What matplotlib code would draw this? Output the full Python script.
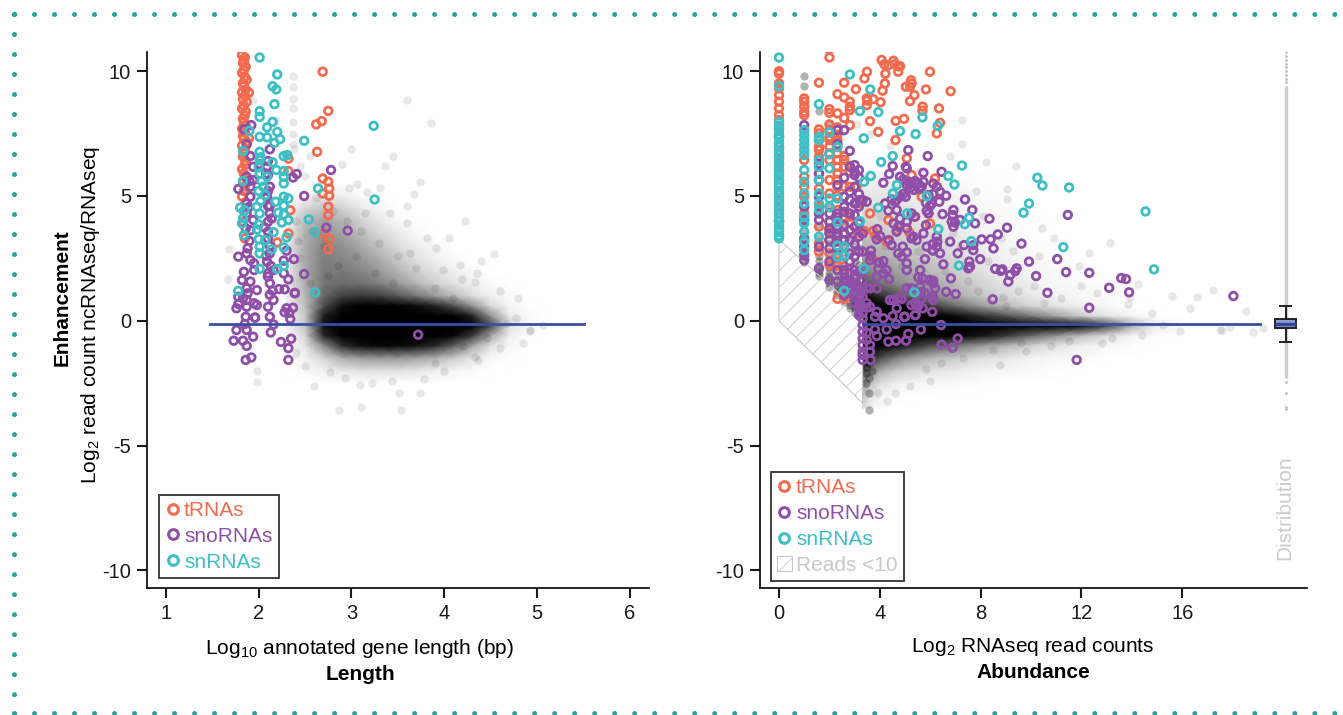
import numpy as np
import matplotlib
matplotlib.use("Agg")
import matplotlib.pyplot as plt
from matplotlib.colors import LinearSegmentedColormap
from matplotlib.patches import Polygon, Patch
from matplotlib.lines import Line2D

plt.rcParams['font.family'] = ['Liberation Sans', 'DejaVu Sans']
plt.rcParams['mathtext.default'] = 'regular'
plt.rcParams['hatch.linewidth'] = 0.6
plt.rcParams['hatch.color'] = '#c8c8c8'

C_T = '#f26b4f'
C_SNO = '#8f4fa8'
C_SN = '#3dbfc6'
C_LINE = '#3a4fa2'
C_BORDER = '#2aa19d'

# ---------------- LEFT PANEL DATA (x = log10 length, y = log2 enhancement) -------------
trna_left = [(1.82,10.65),(1.85,10.55),(1.84,10.42),(1.83,10.33),(1.86,10.18),(1.84,10.05),(1.82,9.93),
             (1.85,9.78),(1.87,9.66),(1.83,9.52),(1.84,9.41),(1.86,9.27),(1.82,9.15),(1.85,9.02),(1.83,8.88),
             (1.87,8.77),(1.84,8.62),(1.82,8.5),(1.86,8.38),(1.85,8.22),(1.83,8.1),(1.84,7.97),(1.86,7.82),
             (1.82,7.7),(1.85,7.55),(1.83,7.41),(1.84,7.3),(1.87,7.16),(1.82,7.02),(1.85,6.85),(1.84,6.71),
             (1.83,6.58),(1.86,6.4),(1.85,6.25),(1.82,6.07),(1.84,5.9),(1.86,5.74),(1.83,5.55),(1.85,5.38),
             (1.84,5.2),(1.82,4.98),(1.86,4.75),(1.84,4.4),(1.83,3.95),(1.85,3.3),(1.895,9.14),(1.895,7.31),
             (2.32,6.5),(2.32,6.0),(2.34,4.43),(2.32,3.5),(2.20,3.14),(2.69,9.98),(2.75,8.41),(2.68,8.0),
             (2.62,7.87),(2.63,6.77),(2.69,5.7),(2.75,5.57),(2.76,5.3),(2.69,5.1),(2.76,5.01),(2.75,4.57),
             (2.75,4.23),(2.70,3.5),(2.76,3.27),(2.75,2.86)]
snrna_left = [(2.01,10.55),(2.2,9.87),(2.15,9.40),(2.19,9.27),(2.17,8.68),(2.01,8.40),(2.01,8.17),(2.15,7.97),
              (2.09,7.75),(1.9,7.61),(2.2,7.57),(2.01,7.37),(2.09,7.35),(2.23,7.28),(2.17,7.13),(2.49,7.21),
              (3.24,7.81),(1.83,6.80),(2.01,6.77),(2.27,6.60),(2.31,6.64),(2.15,6.35),(2.01,6.44),(2.19,6.04),
              (2.27,6.0),(2.01,5.9),(2.09,5.77),(2.27,5.77),(1.83,5.6),(2.27,5.5),(2.05,5.37),(2.64,5.30),
              (2.07,5.04),(2.27,4.97),(2.32,4.9),(2.18,4.77),(2.27,4.61),(1.8,4.53),(1.85,4.43),(1.98,4.57),
              (2.01,4.3),(2.21,4.33),(2.27,4.26),(1.83,4.1),(1.82,3.9),(2.32,4.04),(2.25,3.94),(2.54,4.06),
              (2.0,3.86),(1.98,3.66),(2.16,3.55),(2.61,3.54),(2.3,3.34),(2.0,3.27),(2.07,3.23),(1.84,3.43),
              (2.01,2.97),(2.27,2.94),(2.14,2.86),(2.01,2.70),(2.2,2.07),(2.01,2.08),(2.27,2.2),(3.25,4.86),
              (1.78,1.2),(2.61,1.14),(2.02,6.55),(2.0,6.15),(2.03,5.6),(2.0,5.2),(2.02,4.8)]
snorna_left = [(1.92,7.84),(1.84,7.67),(2.12,6.87),(1.87,7.07),(1.91,6.6),(2.01,6.28),(1.94,6.17),(2.09,6.17),
               (2.78,6.04),(2.41,5.88),(2.37,5.74),(1.87,5.77),(1.94,5.64),(2.1,5.84),(1.78,5.28),(1.91,5.37),
               (2.12,5.37),(1.91,4.97),(2.09,4.97),(2.49,5.0),(1.87,4.7),(2.1,4.6),(1.87,4.3),(2.12,4.3),
               (1.94,4.04),(2.1,3.97),(2.73,3.73),(2.96,3.61),(1.91,3.63),(2.1,3.57),(2.3,2.81),(2.38,2.47),
               (1.87,2.7),(2.12,2.7),(1.78,2.57),(1.91,2.43),(2.09,2.37),(2.27,2.41),(2.16,2.03),(1.84,1.96),
               (1.95,2.03),(2.27,1.9),(2.49,1.87),(2.1,1.77),(1.82,1.63),(1.91,1.57),(2.12,1.5),(2.32,1.66),
               (1.87,1.3),(1.98,1.23),(2.22,1.27),(2.39,1.1),(1.78,0.96),(1.87,0.83),(2.16,0.83),(1.95,0.7),
               (1.76,0.5),(2.3,0.5),(2.1,0.56),(2.37,0.52),(2.33,0.32),(1.86,0.16),(1.96,0.12),(2.12,0.16),
               (3.72,-0.56),(1.76,-0.37),(1.87,-0.37),(1.85,-0.13),(2.16,-0.15),(1.73,-0.8),(1.83,-0.8),
               (2.13,-0.47),(1.94,-0.64),(1.87,-1.01),(2.24,-0.85),(2.35,-0.72),(2.32,-1.1),(1.86,-1.57),
               (1.92,-1.47),(2.32,-1.57),(2.34,0.07),(2.28,0.34),(1.96,0.13),(1.98,0.63),(1.87,0.56),
               (2.39,1.12),(2.28,1.26),(2.12,1.04),(1.83,0.90),(1.78,0.67),(1.9,3.2),(1.88,2.9),(2.1,3.3),
               (2.12,3.0),(1.86,3.7),(2.08,2.6),(1.95,2.3),(2.1,1.9),(1.88,1.1),(2.15,1.2),(2.12,4.6),
               (2.1,5.2),(1.9,5.6),(2.08,5.9),(2.1,6.4),(2.14,4.1),(1.89,4.55),(2.06,3.75),(2.13,2.2)]
gray_left = [(2.37,9.8),(2.37,9.38),(2.37,8.9),(2.37,8.51),(2.37,7.97),(2.37,7.47),(2.37,7.08),(2.38,6.87),
             (3.6,8.84),(3.86,7.93),(1.94,8.84),(2.19,8.04),(3.36,6.21),(3.67,5.06),(3.74,5.57),(3.42,4.3),
             (4.23,4.01),(4.54,2.66),(4.35,1.9),(4.19,1.66),(1.68,2.86),(1.67,1.67),(3.91,2.9),(3.99,2.03),
             (3.81,3.3),(3.31,5.3),(3.17,5.17),(2.97,5.3),(3.06,5.5),(3.6,3.9),(3.63,2.7),(4.93,-0.37),
             (5.07,-0.17),(4.78,0.1),(4.68,-0.1),(1.98,-2.0),(1.98,-2.47),(2.87,-3.58),(3.1,-3.44),
             (3.54,-3.58),(3.51,-2.91),(3.74,-2.91),(3.09,-2.59),(3.22,-2.51),(3.44,-2.4),(3.78,-2.32),
             (2.93,-2.31),(2.77,-2.07),(4.33,-1.44),(4.37,-1.57),(4.46,-0.71),(4.93,-0.4),(4.17,2.23),
             (4.33,1.56),(2.45,6.2),(2.5,5.8),(2.55,6.6),(2.9,6.3),(3.0,6.9),(3.45,6.6),(4.05,3.3),
             (4.4,2.4),(4.6,1.2),(4.8,0.9),(4.85,-0.9),(4.6,-1.1),(2.4,-1.3),(2.5,-1.8),(2.6,-2.6),
             (4.0,-2.0),(3.9,-1.7),(4.2,-1.0),(2.45,2.5),(2.4,4.0),(2.42,3.2),(2.55,1.5),(3.6,4.6),
             (2.62,4.9),(2.8,4.4),(2.95,4.0),(3.1,3.6),(3.3,3.1),(3.5,2.6),(3.7,2.1),(2.7,3.0),(2.85,2.2),
             (3.05,2.6),(3.25,1.9),(3.45,1.5),(3.9,1.3),(4.1,0.9),(2.58,3.6),(2.75,1.8),(3.15,4.3)]
trend_left_x = [1.47, 5.51]
trend_y = -0.15

# density of the grey background cloud (darkness 0..1)
dens_left_x = [2.3, 2.5, 2.7, 2.9, 3.1, 3.3, 3.5, 3.7, 3.9, 4.1, 4.3, 4.5, 4.7, 4.9, 5.1]
dens_left_y = [-2.5, -2.0, -1.5, -1.0, -0.6, -0.2, 0.2, 0.6, 1.0, 1.5, 2.0, 2.5, 3.0, 3.5, 4.0, 4.5, 5.0, 5.5]
dens_left = [
    [0, 0, 0, 0, 0, 0, 0, 0, 0, 0, 0, 0, 0, 0, 0],
    [0, .02, .06, .10, .12, .12, .12, .10, .07, .04, .02, 0, 0, 0, 0],
    [.01, .05, .16, .32, .38, .40, .40, .36, .30, .20, .10, .03, .01, 0, 0],
    [.02, .10, .45, .82, .94, .97, .97, .93, .84, .64, .36, .12, .03, 0, 0],
    [.03, .16, .85, 1, 1, 1, 1, 1, 1, .97, .78, .35, .07, .01, 0],
    [.04, .22, .93, 1, 1, 1, 1, 1, 1, 1, 1, .72, .14, .03, 0],
    [.04, .22, .88, 1, 1, 1, 1, 1, 1, 1, .87, .44, .09, .02, 0],
    [.05, .25, .70, .94, 1, 1, 1, .96, .87, .70, .44, .16, .04, .01, 0],
    [.06, .28, .60, .74, .78, .76, .66, .54, .40, .27, .14, .06, .02, 0, 0],
    [.07, .32, .54, .58, .56, .50, .40, .29, .19, .11, .06, .02, 0, 0, 0],
    [.07, .33, .52, .52, .48, .40, .29, .19, .11, .06, .02, 0, 0, 0, 0],
    [.07, .33, .50, .48, .41, .32, .21, .12, .06, .02, 0, 0, 0, 0, 0],
    [.07, .33, .48, .43, .34, .24, .14, .07, .03, 0, 0, 0, 0, 0, 0],
    [.06, .31, .42, .36, .26, .16, .08, .03, 0, 0, 0, 0, 0, 0, 0],
    [.05, .26, .36, .29, .18, .09, .03, 0, 0, 0, 0, 0, 0, 0, 0],
    [.03, .16, .24, .18, .09, .04, 0, 0, 0, 0, 0, 0, 0, 0, 0],
    [0, .05, .10, .07, .02, 0, 0, 0, 0, 0, 0, 0, 0, 0, 0],
    [0, 0, 0, 0, 0, 0, 0, 0, 0, 0, 0, 0, 0, 0, 0],
]

# ---------------- RIGHT PANEL DATA (x = log2 RNAseq read counts) -------------
trna_right = [(0,10.0),(0,9.9),(0,9.51),(0,9.31),(0,9.04),(0,8.78),(0,8.51),(0,8.24),(0,8.04),(0,7.71),
              (0,7.37),(0,6.97),(0,6.71),(0,6.3),(0,5.9),(0,5.5),(0,5.1),(0,4.84),(0,4.57),(0,4.3),(0,3.97),
              (0,3.63),(0,3.37),
              (2.0,10.89),(2.0,10.55),(4.07,10.45),(4.18,10.28),(4.35,10.24),(4.54,10.42),(4.6,10.28),
              (4.73,10.2),(4.8,10.2),(4.22,9.9),(4.73,9.98),(5.99,9.98),(3.49,9.98),(3.39,9.71),(1.585,9.54),
              (2.585,9.54),(4.2,9.51),(5.24,9.64),(5.26,9.51),(5.2,9.38),(5.03,9.38),(3.05,9.28),(4.11,9.22),
              (5.83,9.27),(6.81,9.2),(5.37,9.04),(2.32,9.08),(2.585,8.95),(3.48,8.91),(3.5,8.82),(3.74,8.88),
              (5.2,8.8),(4.03,8.76),(2.81,8.78),(1,8.91),(1,8.78),(1,8.58),(1,8.37),(1,8.24),(2.0,8.48),
              (2.0,8.33),(2.81,8.58),(2.81,8.44),(3.48,8.64),(2.32,8.31),(2.585,8.13),(5.7,8.58),(5.69,8.42),
              (6.35,8.51),(3.61,8.0),(4.63,8.01),(4.96,8.09),(6.39,7.93),(2.0,7.87),(2.32,7.75),(2.81,7.84),
              (6.26,7.51),(3.94,7.57),(1.585,7.67),(1.585,7.51),(1.585,7.24),(1.585,6.97),(1.585,6.84),
              (2.0,7.64),(2.0,7.37),(2.0,7.24),(2.0,6.97),(2.0,6.71),(2.0,6.44),(2.32,7.44),(2.32,7.24),
              (4.62,7.24),(2.585,6.6),(2.585,6.44),(2.81,6.2),(2.32,6.71),(2.32,6.44),(2.32,6.17),(2.32,5.9),
              (5.07,6.51),(5.26,5.84),(6.19,5.7),(1,6.44),(1,5.77),(1,5.37),(1,4.97),(1,4.3),(1.585,6.57),
              (1.585,5.9),(1.585,5.3),(1.585,4.57),(1.585,3.77),(1.585,3.1),(1.585,2.77),(2.0,5.64),(2.0,5.1),
              (2.0,4.57),(2.0,3.97),(2.0,3.63),(2.0,3.23),(2.0,2.7),(2.0,2.23),(2.32,5.64),(2.32,5.37),
              (2.32,5.01),(2.32,4.44),(2.32,3.77),(2.32,3.46),(2.32,3.17),(2.32,2.66),(2.32,2.2),(2.32,0.88),
              (2.585,6.17),(2.585,5.37),(2.585,4.17),(2.585,3.5),(2.585,2.97),(2.81,5.97),(2.81,5.37),
              (3.08,5.37),(3.21,4.7),(2.81,4.17),(2.81,3.93),(3.61,4.3),(3.15,3.57),(3.21,3.5),(3.37,3.6),
              (3.74,3.6),(3.82,3.39),(4.27,3.17),(4.34,4.04),(4.67,3.63),(5.17,3.54),(5.66,4.97),(5.37,4.17),
              (5.99,3.9),(3.74,2.43),(2.585,3.77),(2.585,2.17),(2.585,0.88)]
snrna_right = [(0,10.55),(0,9.4),(0,7.97),(0,7.82),(0,7.63),(0,7.47),(0,7.31),(0,7.12),(0,6.98),(0,6.84),
               (0,6.68),(0,6.53),(0,6.41),(0,6.24),(0,6.09),(0,5.96),(0,5.8),(0,5.66),(0,5.49),(0,5.36),
               (0,5.2),(0,5.04),(0,4.91),(0,4.74),(0,4.61),(0,4.44),(0,4.3),(0,4.13),(0,3.99),(0,3.84),
               (0,3.7),(0,3.55),(0,3.41),(0,3.3),
               (2.81,9.87),(1.585,8.68),(3.62,9.27),(3.21,8.4),(3.94,8.36),(5.69,8.15),(6.3,7.81),(4.8,7.6),
               (5.42,7.48),(3.36,7.31),(1,7.64),(1,7.44),(1,7.24),(1,7.04),(1,6.84),(1,6.64),(1,6.04),(1,5.57),
               (1,5.1),(1,4.7),(1,4.17),(1,3.9),(1,3.57),(1,3.17),(1,2.83),(1.585,7.37),(1.585,7.24),
               (1.585,6.44),(1.585,6.17),(1.585,5.64),(1.585,5.1),(1.585,4.7),(1.585,4.44),(1.585,3.37),
               (2.0,7.55),(2.0,6.67),(2.0,6.11),(2.0,4.9),(2.0,4.57),(2.32,6.97),(2.32,4.9),(2.32,3.94),
               (2.32,3.01),(2.32,2.57),(2.585,2.97),(2.585,2.6),(2.585,1.2),(4.51,6.6),(4.05,6.36),(7.26,6.22),
               (6.72,5.8),(6.96,5.46),(4.68,5.44),(10.25,5.73),(10.45,5.42),(11.51,5.34),(4.52,5.1),(5.86,4.99),
               (3.94,4.53),(5.08,4.3),(9.92,4.7),(9.7,4.33),(14.54,4.38),(7.54,4.13),(7.37,3.87),(6.32,3.67),
               (7.63,3.19),(3.21,3.99),(11.28,2.95),(7.14,2.21),(14.88,2.06),(3.36,2.08),(5.37,1.14),
               (3.64,5.8),(3.37,5.57)]
snorna_right = [(0,6.5),(0,4.0),(1,7.84),(1,4.57),(1,4.04),(1,3.3),(1,2.97),(1,2.63),(1,2.43),
                (1.585,6.3),(1.585,5.9),(1.585,5.64),(1.585,4.97),(1.585,4.3),(1.585,4.04),(1.585,2.97),
                (1.585,2.1),(2.0,4.3),(2.0,3.97),(2.0,3.7),(2.0,3.5),(2.0,3.23),(2.0,2.9),(2.0,2.37),(2.0,1.63),
                (2.32,7.64),(2.32,7.08),(2.32,5.44),(2.32,4.3),(2.32,4.17),(2.32,3.77),(2.32,3.5),(2.32,3.37),
                (2.32,2.9),(2.32,2.57),(2.32,2.03),(2.32,1.57),(2.585,7.64),(2.585,5.73),(2.585,4.97),
                (2.585,4.57),(2.585,4.37),(2.585,3.83),(2.585,3.5),(2.585,3.23),(2.585,2.03),(2.585,1.9),
                (2.585,1.57),(2.585,1.3),(2.585,1.03),(2.81,6.81),(2.81,6.17),(2.81,5.17),(2.81,4.84),
                (2.81,4.3),(2.81,3.63),(2.81,3.23),(2.81,2.7),(2.81,2.37),(2.81,1.9),(2.81,1.5),(2.81,1.3),
                (3.0,6.24),(3.0,5.97),(3.0,5.84),(3.0,5.37),(3.0,4.7),(3.0,4.24),(3.0,3.77),(3.0,3.07),
                (3.0,2.57),(3.0,2.03),(3.0,1.77),(3.0,1.43),(3.0,1.1),(3.0,0.7),(3.17,6.04),(3.17,5.74),
                (3.17,5.08),(3.17,4.57),(3.17,3.9),(3.17,3.37),(3.17,2.77),(3.17,1.96),(3.17,1.37),(3.17,0.96),
                (3.17,0.63),(3.17,0.5),(3.17,0.23),(3.32,4.84),(3.32,3.5),(3.32,2.77),(3.32,1.63),(3.32,1.3),
                (3.32,0.96),(3.32,0.56),(3.32,0.3),(3.32,0.1),(3.32,-0.17),(3.32,-0.44),(3.32,-0.71),
                (3.32,-0.97),(3.32,-1.24),(3.32,-1.37),(3.32,-1.57),
                (5.13,6.84),(5.9,6.6),(5.03,6.17),(5.07,6.11),(4.51,6.2),(4.14,5.53),(4.37,5.88),(4.8,5.77),
                (4.93,5.66),(5.13,5.57),(5.26,5.53),(5.4,5.6),(5.53,5.5),(5.73,5.93),(5.73,5.57),(5.07,5.44),
                (5.2,5.3),(5.36,5.24),(5.56,5.3),(5.66,5.37),(6.12,5.5),(6.26,5.37),(6.45,5.97),(6.39,5.17),
                (6.63,5.01),(6.12,5.08),(5.93,5.04),(5.83,4.73),(5.99,4.6),(6.06,4.7),(6.36,4.77),(7.38,4.86),
                (4.93,5.08),(5.03,4.97),(4.66,4.84),(4.6,4.77),(4.8,4.97),(4.47,4.86),(4.21,4.7),(3.48,4.77),
                (3.21,4.84),(3.05,4.7),(4.34,4.41),(4.67,4.44),(4.8,4.1),(5.07,3.97),(5.26,4.3),(5.86,4.41),
                (5.93,4.3),(6.49,4.27),(5.4,4.17),(6.92,4.44),(6.89,4.24),(6.85,3.97),(6.92,3.77),(7.18,4.04),
                (6.98,3.93),(7.67,4.44),(7.78,3.9),(8.35,4.09),(9.05,3.73),(11.46,4.24),(8.68,3.46),
                (8.04,3.26),(8.4,3.26),(6.26,3.37),(6.28,3.17),(6.26,2.97),(6.79,3.17),(7.34,3.03),(7.71,3.03),
                (7.71,2.83),(7.09,2.7),(8.51,2.9),(9.62,3.09),(6.12,2.81),(6.39,2.7),(5.79,2.47),(4.91,2.97),
                (5.07,2.74),(4.47,3.03),(4.36,3.23),(4.01,3.39),(3.9,3.67),(3.88,3.26),(3.65,2.81),(3.64,2.59),
                (3.61,2.43),(4.14,2.39),(3.94,2.08),(4.37,1.67),(4.73,2.7),(4.87,2.57),(5.07,2.3),(5.07,2.03),
                (5.6,2.03),(5.69,1.7),(5.53,1.74),(5.97,1.63),(6.12,1.6),(6.52,2.26),(6.82,1.7),(6.63,1.16),
                (7.01,1.07),(7.55,2.37),(7.58,2.17),(7.51,2.1),(7.98,2.47),(8.58,2.08),(8.8,2.0),(8.86,2.06),
                (9.17,1.83),(9.1,1.57),(9.43,2.1),(9.37,1.99),(9.92,2.37),(10.2,1.79),(11.04,2.47),(11.39,1.95),
                (12.31,1.92),(13.58,1.71),(13.77,1.67),(13.1,1.32),(13.89,1.14),(10.65,1.12),(8.48,0.86),
                (12.31,0.52),(18.03,0.99),(11.81,-1.57),(7.09,-0.71),(6.45,-0.96),(6.89,-1.08),(6.43,-0.17),
                (6.08,0.36),(5.7,0.5),(5.42,0.23),(5.0,0.16),(5.26,0.63),(5.4,0.7),(5.53,0.6),(6.12,0.83),
                (6.12,0.96),(5.66,0.9),(5.79,1.1),(6.12,1.5),(5.99,1.63),(6.19,1.3),(5.6,1.36),(5.63,1.14),
                (4.87,0.88),(4.73,0.9),(4.54,0.83),(4.4,0.83),(4.67,0.5),(4.51,0.19),(4.97,0.16),(5.4,0.23),
                (4.14,0.1),(3.81,0.16),(3.88,0.36),(4.27,-0.35),(4.64,-0.13),(5.63,-0.35),(3.81,-0.35),
                (3.88,-0.61),(3.48,-0.48),(3.48,-0.77),(4.34,-0.84),(4.64,-0.8),(5.04,-0.8),(5.13,-0.53),
                (3.61,-0.97),(3.61,-1.24),(3.64,-1.57),(3.48,0.52),(3.48,0.7),(3.61,0.56),(3.21,1.3),(3.48,1.3),
                (3.61,1.3),(3.88,1.3),(5.07,1.3),(5.26,1.3),(3.88,1.76),(4.14,1.9),(4.27,2.03),(3.21,1.9),
                (3.35,2.03),(3.97,2.33),(4.54,3.9),(4.73,3.77),(4.67,3.57),(5.07,3.7),(5.33,3.37),(5.46,3.23),
                (5.26,3.3),(5.83,3.83),(5.73,3.5),(5.86,2.97),(6.09,2.83),(6.1,3.07),(2.69,1.63),(2.88,1.57),
                (2.95,1.07),(3.08,1.1),(3.21,1.03)]
gray_right_cols = [(1,2.35),(1,2.5),(1,2.65),(1,2.8),(1,3.0),(1,3.2),(1,3.5),(1,3.9),(1,4.4),(1,5.0),(1,9.4),(1,9.8),
                   (1.585,1.78),(1.585,1.9),(1.585,2.05),(1.585,2.2),(1.585,2.4),(1.585,2.6),(1.585,2.9),(1.585,3.3),
                   (1.585,3.8),(1.585,4.6),(1.585,8.4),(2,1.35),(2,1.5),(2,1.62),(2,1.78),(2,1.95),(2,2.15),(2,2.4),
                   (2,2.7),(2,3.1),(2,3.6),(2,4.5),(2,7.9),(2.32,1.02),(2.32,1.15),(2.32,1.3),(2.32,1.45),(2.32,1.62),
                   (2.32,1.8),(2.32,2.05),(2.32,2.35),(2.32,2.75),(2.32,3.3),(2.32,4.2),(2.585,0.75),(2.585,0.88),
                   (2.585,1.02),(2.585,1.18),(2.585,1.35),(2.585,1.55),(2.585,1.8),(2.585,2.1),(2.585,2.5),
                   (2.585,3.0),(2.585,3.9),(2.81,0.52),(2.81,0.65),(2.81,0.8),(2.81,0.95),(2.81,1.12),(2.81,1.32),
                   (2.81,1.55),(2.81,1.85),(2.81,2.2),(2.81,2.7),(2.81,3.4),(3.0,0.33),(3.0,0.46),(3.0,0.6),
                   (3.0,0.75),(3.0,0.92),(3.0,1.1),(3.0,1.32),(3.0,1.6),(3.0,1.95),(3.0,2.4),(3.0,3.0),(3.17,0.17),
                   (3.17,0.3),(3.17,0.44),(3.17,0.6),(3.17,0.78),(3.17,0.98),(3.17,1.2),(3.17,1.48),(3.17,1.8),
                   (3.17,2.25),(3.17,2.9),(3.46,-1.84),(3.46,-2.11),(3.46,-2.51),(3.58,-2.91),(3.58,-3.58),
                   (3.46,-1.6),(3.58,-2.3),(3.7,-2.0),(3.58,-1.7)]
gray_right = [(3.08,7.9),(7.25,8.04),(7.25,7.08),(8.2,6.35),(9.4,6.22),(9.03,5.28),(9.06,4.88),(10.42,3.7),
              (13.13,3.1),(13.93,0.96),(15.58,0.99),(16.57,0.96),(17.24,1.23),(17.57,-0.37),(17.9,-0.24),
              (15.25,-0.17),(13.86,0.66),(8.51,-1.17),(8.77,-1.78),(6.43,-1.71),(5.83,-1.94),(3.94,-2.91),
              (18.52,0.4),(18.8,-0.45),(19.2,-0.3),(17.5,-0.36),(14.26,1.48),(14.41,-0.59),(12.6,1.1),
              (11.2,0.9),(10.3,2.6),(11.9,2.2),(9.5,1.2),(10.8,-1.0),(9.8,-1.2),(12.8,-0.9),(7.8,5.2),
              (8.8,3.3),(6.8,6.6),(4.4,7.0),(3.6,7.5),(5.6,6.0),(7.5,1.6),(10.9,3.3),(12.3,2.7),(14.8,0.3),
              (15.9,-0.4),(16.3,0.5),(7.3,-1.5),(9.6,-0.9),(11.5,-0.8),(6.0,-2.4),(5.2,-2.6),(4.6,-2.9),
              (4.3,-3.2),(13.2,-0.7),(8.9,0.95),(10.1,1.4),(6.9,3.5),(8.1,4.2),(4.2,3.0),(4.9,2.2),
              (5.5,2.8),(6.6,2.0),(7.2,3.0),(8.3,2.4),(9.3,2.8),(6.0,4.3),(5.0,5.0),(4.0,4.2),(7.9,1.2),
              (9.0,0.6),(10.5,0.7),(12.0,1.4)]
trend_right_x = [3.32, 19.1]

dens_right_x = [3.32, 3.6, 4.0, 4.5, 5, 6, 7, 8, 9, 10, 11, 12, 13, 14, 15, 16]
dens_right_y = [-3.5, -3, -2.5, -2, -1.5, -1, -0.6, -0.2, 0.2, 0.6, 1, 1.5, 2, 2.5, 3, 3.5, 4, 5, 6]
dens_right = [
    [.15, .06, .02, 0, 0, 0, 0, 0, 0, 0, 0, 0, 0, 0, 0, 0],
    [.25, .12, .05, .02, .01, 0, 0, 0, 0, 0, 0, 0, 0, 0, 0, 0],
    [.42, .26, .14, .08, .05, .03, .02, .01, 0, 0, 0, 0, 0, 0, 0, 0],
    [.62, .48, .34, .23, .17, .11, .08, .05, .03, .02, .01, 0, 0, 0, 0, 0],
    [.92, .88, .70, .55, .42, .28, .20, .13, .09, .05, .03, .02, 0, 0, 0, 0],
    [1, 1, 1, .96, .88, .68, .54, .40, .28, .18, .11, .06, .03, .01, 0, 0],
    [1, 1, 1, 1, 1, 1, 1, .92, .78, .58, .42, .26, .13, .04, .01, 0],
    [1, 1, 1, 1, 1, 1, 1, 1, 1, 1, 1, .96, .72, .32, .07, .02],
    [1, 1, 1, 1, 1, 1, .96, .82, .68, .52, .36, .21, .10, .04, .01, 0],
    [1, 1, 1, 1, .96, .78, .58, .40, .27, .17, .10, .06, .03, .01, 0, 0],
    [.96, .92, .82, .72, .62, .47, .34, .23, .15, .09, .05, .03, .02, 0, 0, 0],
    [.70, .64, .55, .48, .42, .34, .25, .17, .10, .06, .03, .02, .01, 0, 0, 0],
    [.50, .46, .42, .38, .34, .27, .19, .12, .07, .04, .02, .01, 0, 0, 0, 0],
    [.38, .35, .32, .30, .27, .21, .15, .09, .05, .03, .01, 0, 0, 0, 0, 0],
    [.30, .28, .27, .24, .21, .17, .12, .07, .04, .02, .01, 0, 0, 0, 0, 0],
    [.24, .22, .21, .19, .17, .14, .09, .05, .03, .01, 0, 0, 0, 0, 0, 0],
    [.18, .17, .16, .15, .13, .10, .07, .04, .02, .01, 0, 0, 0, 0, 0, 0],
    [.10, .10, .10, .09, .08, .06, .04, .02, .01, 0, 0, 0, 0, 0, 0, 0],
    [.04, .04, .04, .04, .03, .02, .01, 0, 0, 0, 0, 0, 0, 0, 0, 0],
]

reads_lt10_x = [0, 0, 3.32, 3.32]
reads_lt10_y = [3.25, 0, -3.3, 0.25]

dist_pos = 20.1
dist_stats = dict(med=-0.13, q1=-0.31, q3=0.07, whislo=-0.86, whishi=0.6)
dist_strip = (-2.3, 9.4)
dist_dots = [10.9, 10.75, 10.6, 10.45, 10.3, 10.15, 10.0, 9.85, 9.7, 9.55, -2.45, -2.9, -3.45, -3.55]

y_ticks = [-10, -5, 0, 5, 10]
left_xticks = [1, 2, 3, 4, 5, 6]
right_xticks = [0, 4, 8, 12, 16]

# ---------------- FIGURE -------------
W, H = 1343, 715
fig = plt.figure(figsize=(W / 100, H / 100), dpi=100)

def px(x0, y0, x1, y1):
    return [x0 / W, 1 - y1 / H, (x1 - x0) / W, (y1 - y0) / H]

axL = fig.add_axes(px(147, 52, 649, 588))
axR = fig.add_axes(px(760, 52, 1307, 588))

# opaque white -> black ramp (no alpha seams between the shaded triangles)
cmap = LinearSegmentedColormap.from_list('cloud', ['#ffffff', '#000000'])
ring = dict(s=30, facecolors='none', linewidths=2.0, zorder=3)
gray_kw = dict(s=36, color='black', alpha=0.09, linewidths=0, zorder=1)

def xy(pairs):
    a = np.array(pairs, dtype=float)
    return a[:, 0], a[:, 1]

def style(ax, xlim, xticks):
    ax.set_xlim(*xlim)
    ax.set_ylim(-10.71, 10.77)
    ax.set_xticks(xticks)
    ax.set_yticks(y_ticks)
    ax.set_yticklabels([str(t) for t in y_ticks])
    for s in ('top', 'right'):
        ax.spines[s].set_visible(False)
    for s in ('left', 'bottom'):
        ax.spines[s].set_linewidth(1.2)
    ax.tick_params(direction='out', length=7.5, width=1.5, labelsize=14.5, pad=4, colors='#1a1a1a')

def legend(ax, extra=None, anchor=(0.02, 0.015)):
    h = [Line2D([], [], ls='none', marker='o', ms=7, mfc='none', mew=2.2, mec=c) for c in (C_T, C_SNO, C_SN)]
    labels = ['tRNAs', 'snoRNAs', 'snRNAs']
    cols = [C_T, C_SNO, C_SN]
    if extra is not None:
        h.append(extra)
        labels.append('Reads <10')
        cols.append('#c8c8c8')
    lg = ax.legend(h, labels, loc='lower left', bbox_to_anchor=anchor, borderaxespad=0,
                   fontsize=15, frameon=True, fancybox=False, handlelength=0.7, handletextpad=0.2,
                   labelspacing=0.33, borderpad=0.3, edgecolor='#333333', framealpha=1)
    lg.get_frame().set_linewidth(1.3)
    for t, c in zip(lg.get_texts(), cols):
        t.set_color(c)
    lg.set_zorder(10)

# ---- left panel
Xg, Yg = np.meshgrid(dens_left_x, dens_left_y)
axL.pcolormesh(Xg, Yg, np.array(dens_left), shading='gouraud', cmap=cmap, vmin=0, vmax=1,
               antialiased=False, zorder=0.5)
gx, gy = xy(gray_left)
axL.scatter(gx, gy, **gray_kw)
for pairs, c in ((trna_left, C_T), (snorna_left, C_SNO), (snrna_left, C_SN)):
    x, y = xy(pairs)
    axL.scatter(x, y, edgecolors=c, **ring)
axL.plot(trend_left_x, [trend_y, trend_y], color=C_LINE, lw=2, zorder=4)
style(axL, (0.795, 6.21), left_xticks)
legend(axL, anchor=(0.024, 0.019))

# ---- right panel
Xg, Yg = np.meshgrid(dens_right_x, dens_right_y)
axR.pcolormesh(Xg, Yg, np.array(dens_right), shading='gouraud', cmap=cmap, vmin=0, vmax=1,
               antialiased=False, zorder=0.5)
poly = Polygon(list(zip(reads_lt10_x, reads_lt10_y)), closed=True, facecolor='none',
               edgecolor='#c8c8c8', hatch='//', lw=0.8, zorder=1.5)
axR.add_patch(poly)
gx, gy = xy(gray_right_cols)
axR.scatter(gx, gy, s=36, color='black', alpha=0.3, linewidths=0, zorder=1)
gx, gy = xy(gray_right)
axR.scatter(gx, gy, **gray_kw)
for pairs, c in ((trna_right, C_T), (snorna_right, C_SNO), (snrna_right, C_SN)):
    x, y = xy(pairs)
    axR.scatter(x, y, edgecolors=c, **ring)
axR.plot(trend_right_x, [trend_y, trend_y], color=C_LINE, lw=2, zorder=4)

axR.vlines(dist_pos, dist_strip[0], dist_strip[1], color='#cdcdcd', lw=2.5, zorder=2)
axR.scatter([dist_pos] * len(dist_dots), dist_dots, s=4, color='#bdbdbd', linewidths=0, zorder=2)
st = dict(dist_stats)
st['fliers'] = []
axR.bxp([st], positions=[dist_pos], widths=0.83, patch_artist=True, showfliers=False, manage_ticks=False,
        boxprops=dict(facecolor='#8f9ecd', edgecolor='#222222', linewidth=1.4),
        medianprops=dict(color='#34469a', linewidth=2.5),
        whiskerprops=dict(color='#222222', linewidth=1.4),
        capprops=dict(color='#222222', linewidth=1.4), capwidths=[0.44], zorder=5)
axR.text(dist_pos - 0.05, -7.5, 'Distribution', rotation=90, ha='center', va='center',
         color='#cccccc', fontsize=15)
style(axR, (-0.754, 20.95), right_xticks)
hatch_handle = Patch(facecolor='none', edgecolor='#c8c8c8', hatch='//', lw=0.8)
legend(axR, extra=hatch_handle, anchor=(0.02, 0.013))

# ---- axis titles
fig.text(360 / W, 1 - 648 / H, 'Log$_{10}$ annotated gene length (bp)', ha='center', va='center', fontsize=15)
fig.text(360 / W, 1 - 674 / H, 'Length', ha='center', va='center', fontsize=15, fontweight='bold')
fig.text(1033 / W, 1 - 647 / H, 'Log$_{2}$ RNAseq read counts', ha='center', va='center', fontsize=15)
fig.text(1033 / W, 1 - 673 / H, 'Abundance', ha='center', va='center', fontsize=15, fontweight='bold')
fig.text(62 / W, 1 - 298 / H, 'Enhancement', rotation=90, ha='center', va='center', fontsize=15,
         fontweight='bold')
fig.text(90 / W, 1 - 315 / H, 'Log$_{2}$ read count ncRNAseq/RNAseq', rotation=90, ha='center',
         va='center', fontsize=15)

# ---- dotted decorative border
dot = dict(color=C_BORDER, lw=3.6, ls=(0, (0.001, 4)), dash_capstyle='round', transform=fig.transFigure)
fig.add_artist(Line2D([14 / W, 1.0], [1 - 14 / H, 1 - 14 / H], **dot))
fig.add_artist(Line2D([14 / W, 14 / W], [1 - 14 / H, 0.0], **dot))
fig.add_artist(Line2D([14 / W, 1.0], [1 - 713 / H, 1 - 713 / H], **dot))

fig.savefig('out.png', dpi=100)
